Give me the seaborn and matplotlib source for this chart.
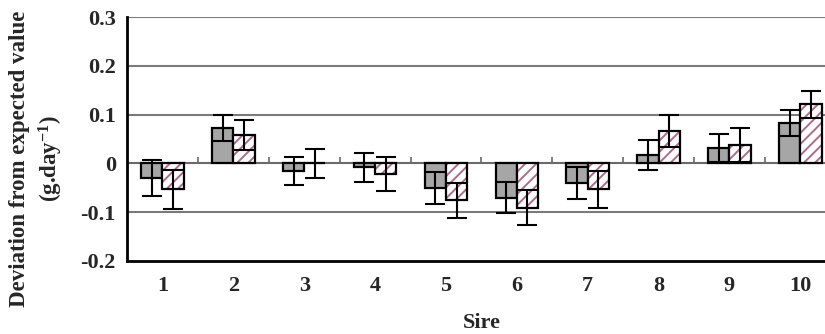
import numpy as np
import pandas as pd
import matplotlib
matplotlib.use("Agg")
import matplotlib.pyplot as plt
import seaborn as sns
from matplotlib.patches import Rectangle

# Values
sires = ["1", "2", "3", "4", "5", "6", "7", "8", "9", "10"]
grey_vals = [-0.030, 0.072, -0.015, -0.008, -0.050, -0.070, -0.040, 0.017, 0.031, 0.083]
grey_err = [0.037, 0.027, 0.029, 0.030, 0.033, 0.031, 0.032, 0.030, 0.029, 0.027]
hatch_vals = [-0.053, 0.058, 0.000, -0.021, -0.076, -0.091, -0.053, 0.066, 0.038, 0.121]
hatch_err = [0.040, 0.030, 0.030, 0.035, 0.035, 0.036, 0.038, 0.033, 0.035, 0.028]
y_ticks = [-0.2, -0.1, 0.0, 0.1, 0.2, 0.3]
y_tick_labels = ["-0.2", "-0.1", "0", "0.1", "0.2", "0.3"]

df = pd.DataFrame({
    "sire": sires * 2,
    "group": ["grey"] * len(sires) + ["hatch"] * len(sires),
    "value": grey_vals + hatch_vals,
})

sns.set_style("white")
plt.rcParams["font.family"] = ["Liberation Serif", "DejaVu Serif"]
plt.rcParams["font.weight"] = "bold"
plt.rcParams["mathtext.fontset"] = "custom"
plt.rcParams["mathtext.rm"] = "Liberation Serif:bold"
plt.rcParams["mathtext.bf"] = "Liberation Serif:bold"
plt.rcParams["mathtext.default"] = "bf"
plt.rcParams["hatch.linewidth"] = 1.4

fig = plt.figure(figsize=(8.25, 3.34), dpi=100)
ax = fig.add_axes([0.154, 0.2186, 0.859, 0.7305])

hatch_col = "#b06a8c"
sns.barplot(data=df, x="sire", y="value", hue="group", order=sires,
            palette={"grey": "#a6a6a6", "hatch": "white"},
            width=0.6, errorbar=None, legend=False, ax=ax, zorder=3)

grey_bars, hatch_bars = ax.containers[0], ax.containers[1]
for p in grey_bars:
    p.set_edgecolor("black")
    p.set_linewidth(1.6)
for p in hatch_bars:
    p.set_hatch("///")
    p.set_edgecolor(hatch_col)
    p.set_linewidth(0)
    # black outline on top of the pink hatch
    ax.add_patch(Rectangle(p.get_xy(), p.get_width(), p.get_height(),
                           fill=False, edgecolor="black", linewidth=1.6, zorder=4))

grey_x = [p.get_x() + p.get_width() / 2 for p in grey_bars]
hatch_x = [p.get_x() + p.get_width() / 2 for p in hatch_bars]
ax.errorbar(grey_x, grey_vals, yerr=grey_err, fmt="none", ecolor="black",
            elinewidth=1.5, capsize=7, capthick=1.5, zorder=5)
ax.errorbar(hatch_x, hatch_vals, yerr=hatch_err, fmt="none", ecolor="black",
            elinewidth=1.5, capsize=7, capthick=1.5, zorder=5)

ax.set_xlim(-0.5, 9.5)
ax.set_ylim(-0.2, 0.3)
ax.set_yticks(y_ticks)
ax.set_yticklabels(y_tick_labels)
for y in [-0.1, 0.1, 0.2, 0.3]:
    ax.axhline(y, color="#7a7a7a", linewidth=1.5, zorder=1)
ax.axhline(0, color="#6a6a6a", linewidth=1.5, zorder=2)

# category axis drawn at zero with ticks between sires
sec = ax.secondary_xaxis(0.4)
sec.set_xticks(np.arange(0.5, 9.5, 1))
sec.tick_params(direction="in", length=4, width=1.2, color="#6a6a6a", labelbottom=False)
sec.spines["bottom"].set_visible(False)

for s in ["top", "right"]:
    ax.spines[s].set_visible(False)
ax.spines["left"].set_linewidth(2)
ax.spines["left"].set_color("black")
ax.spines["bottom"].set_linewidth(2)
ax.spines["bottom"].set_color("black")

ax.tick_params(axis="y", length=0, pad=8, labelsize=16)
ax.tick_params(axis="x", length=0, pad=11, labelsize=16)
ax.set_xlabel("Sire", fontsize=16, fontweight="bold", labelpad=12)
ax.set_ylabel("Deviation from expected value\n(g.day$^{-1}$)", fontsize=16.5,
              fontweight="bold", linespacing=1.3)
ax.yaxis.set_label_coords(-0.088, 0.42)

fig.savefig("out.png", dpi=100)
